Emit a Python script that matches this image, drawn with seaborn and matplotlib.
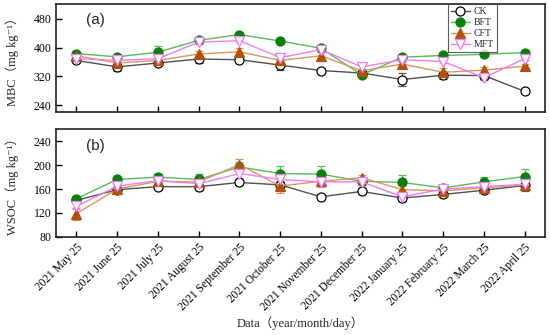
import numpy as np
import pandas as pd
import matplotlib
matplotlib.use('Agg')
import matplotlib.pyplot as plt
import seaborn as sns

## data
dates = ['2021 May 25', '2021 June 25', '2021 July 25', '2021 August 25',
         '2021 September 25', '2021 October 25', '2021 November 25',
         '2021 December 25', '2022 January 25', '2022 February 25',
         '2022 March 25', '2022 April 25']
treatments = ['CK', 'BFT', 'CFT', 'MFT']

mbc_ck = [364, 346, 357, 368, 366, 351, 336, 329, 311, 323, 322, 278]
mbc_bft = [383, 374, 387, 420, 436, 418, 398, 324, 373, 378, 381, 386]
mbc_cft = [377, 357, 364, 382, 388, 364, 377, 335, 354, 331, 337, 348]
mbc_mft = [369, 364, 369, 415, 419, 372, 394, 346, 366, 361, 316, 369]
mbc_ck_err = [5, 12, 6, 10, 6, 14, 4, 4, 18, 10, 6, 4]
mbc_bft_err = [5, 4, 18, 4, 4, 4, 10, 5, 5, 5, 5, 5]
mbc_cft_err = [5, 5, 5, 8, 10, 6, 10, 5, 5, 12, 10, 5]
mbc_mft_err = [4, 5, 6, 5, 5, 12, 5, 5, 4, 4, 6, 5]

wsoc_ck = [141, 159, 164, 164, 171, 167, 147, 156, 145, 151, 158, 166]
wsoc_bft = [144, 176, 180, 176, 197, 186, 185, 173, 171, 162, 172, 181]
wsoc_cft = [119, 160, 173, 172, 201, 165, 173, 179, 159, 157, 162, 167]
wsoc_mft = [131, 165, 174, 169, 186, 176, 172, 172, 147, 160, 164, 168]
wsoc_ck_err = [4, 4, 4, 4, 4, 4, 4, 4, 4, 5, 5, 10]
wsoc_bft_err = [4, 5, 5, 10, 8, 12, 14, 5, 12, 5, 8, 12]
wsoc_cft_err = [10, 5, 5, 10, 10, 12, 5, 5, 8, 10, 8, 8]
wsoc_mft_err = [5, 5, 5, 12, 10, 8, 8, 5, 8, 5, 5, 5]

## styles per treatment: line colour, marker, marker face, marker edge
styles = {
    'CK':  dict(line='#505050', marker='o', face='white', edge='black', size=6.5),
    'BFT': dict(line='#5cb85c', marker='o', face='#0a7d0a', edge='#0a7d0a', size=6.5),
    'CFT': dict(line='#d9965f', marker='^', face='#b0520c', edge='#b0520c', size=7),
    'MFT': dict(line='#f07cf0', marker='v', face='white', edge='#f07cf0', size=7),
}

sns.set_style('ticks')
serif = ['Liberation Serif', 'Noto Sans CJK SC', 'DejaVu Serif']
plt.rcParams['font.family'] = serif


def draw_panel(ax, values, errors):
    x = np.arange(len(dates))
    for name in treatments:
        st = styles[name]
        df = pd.DataFrame({'x': x, 'y': values[name]})
        ax.errorbar(x, values[name], yerr=errors[name], fmt='none',
                    ecolor=st['line'], elinewidth=0.9, capsize=3, capthick=0.9, zorder=2)
        sns.lineplot(data=df, x='x', y='y', ax=ax, color=st['line'], linewidth=1.0,
                     marker=st['marker'], markersize=st['size'],
                     markerfacecolor=st['face'], markeredgecolor=st['edge'],
                     markeredgewidth=0.9, label=name, legend=False, zorder=3)
    ax.set_xlim(-0.5, 11.5)
    ax.set_xticks(x)
    ax.tick_params(direction='in', length=4, width=1, labelsize=8.5, colors='black')
    for sp in ax.spines.values():
        sp.set_visible(True)
        sp.set_linewidth(1.2)
        sp.set_color('#222222')
    ax.set_xlabel('')


fig = plt.figure(figsize=(5.5, 3.35), dpi=100)
ax1 = fig.add_axes([0.102, 0.665, 0.889, 0.322])
ax2 = fig.add_axes([0.102, 0.293, 0.889, 0.321])

draw_panel(ax1,
           {'CK': mbc_ck, 'BFT': mbc_bft, 'CFT': mbc_cft, 'MFT': mbc_mft},
           {'CK': mbc_ck_err, 'BFT': mbc_bft_err, 'CFT': mbc_cft_err, 'MFT': mbc_mft_err})
ax1.set_ylim(220, 520)
ax1.set_yticks([240, 320, 400, 480])
ax1.set_xticklabels([])
ax1.set_ylabel('MBC（mg kg⁻¹）', fontsize=9)
ax1.text(0.061, 0.855, '(a)', transform=ax1.transAxes, fontsize=11,
         family='Liberation Sans', va='center')

draw_panel(ax2,
           {'CK': wsoc_ck, 'BFT': wsoc_bft, 'CFT': wsoc_cft, 'MFT': wsoc_mft},
           {'CK': wsoc_ck_err, 'BFT': wsoc_bft_err, 'CFT': wsoc_cft_err, 'MFT': wsoc_mft_err})
ax2.set_ylim(80, 260)
ax2.set_yticks([80, 120, 160, 200, 240])
ax2.set_xticklabels(dates, rotation=45, ha='right', rotation_mode='anchor', fontsize=8.3)
ax2.set_ylabel('WSOC（mg kg⁻¹）', fontsize=9)
ax2.set_xlabel('Data（year/month/day）', fontsize=9, labelpad=2)
ax2.text(0.061, 0.848, '(b)', transform=ax2.transAxes, fontsize=11,
         family='Liberation Sans', va='center')

ax1.yaxis.set_label_coords(-0.075, 0.5)
ax2.yaxis.set_label_coords(-0.075, 0.5)

leg = ax1.legend(loc='upper right', bbox_to_anchor=(0.902, 1.0), borderaxespad=0,
                 fontsize=7, frameon=True, fancybox=False, handlelength=2.0,
                 handletextpad=0.4, borderpad=0.3, labelspacing=0.2)
leg.get_frame().set_edgecolor('#333333')
leg.get_frame().set_linewidth(0.8)

fig.savefig('out.png', dpi=100)
